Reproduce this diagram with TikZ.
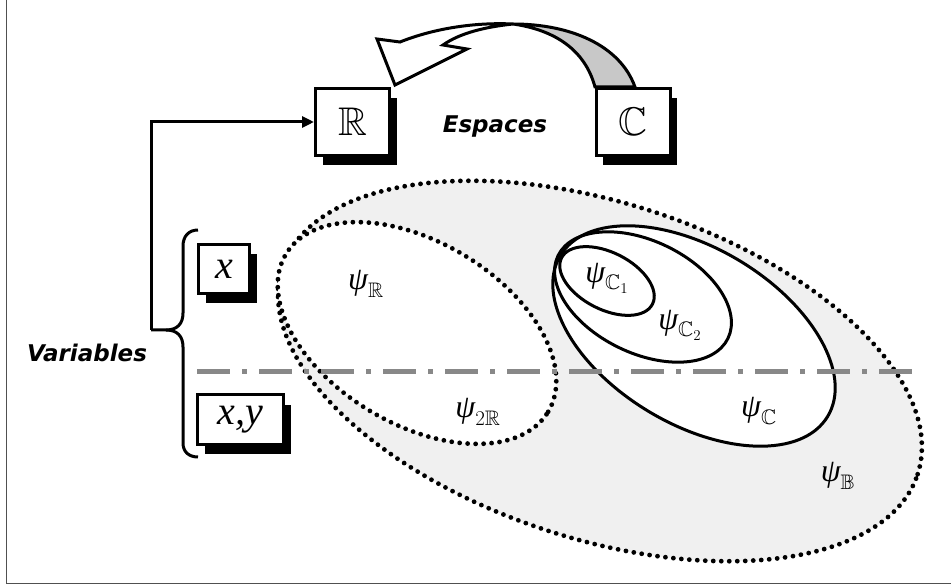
\RequirePackage{fix-cm}
\documentclass[tikz,border=0pt]{standalone}
\usepackage{amssymb}
\usepackage{fontspec}
\usetikzlibrary{arrows.meta,shadows}
\newfontfamily\verdfont{DejaVu Sans}
\newfontfamily\timesfont{Liberation Serif}
\newcommand\psig{\mbox{\fontsize{32}{36}\timesfont\itshape ψ}}
\definecolor{fondgris}{RGB}{240,240,240}
\definecolor{flechegris}{RGB}{200,200,200}
\definecolor{traitgris}{RGB}{136,136,136}
\definecolor{cadregris}{RGB}{80,80,80}
\tikzset{
  ombre/.style={drop shadow={shadow xshift=7pt,shadow yshift=-10pt,fill=black,opacity=1}},
  espace/.style={draw,line width=3pt,fill=white,minimum width=74pt,minimum height=67pt,inner sep=0pt,font=\fontsize{40}{44}\selectfont,ombre},
  varbox/.style={draw,line width=3pt,fill=white,minimum height=49pt,inner sep=0pt,font=\fontsize{40}{44}\timesfont\itshape,ombre},
  etiquette/.style={font=\fontsize{23}{27}\verdfont\bfseries\itshape,inner sep=0pt},
  psi/.style={font=\fontsize{30}{34}\selectfont,inner sep=0pt},
  pointille/.style={line width=4.8pt,line cap=round,dash pattern=on 0pt off 8pt},
  contour/.style={line width=3pt},
  axe/.style={line width=5pt,traitgris,dash pattern=on 33pt off 12pt on 5pt off 12pt},
  fleche/.style={line width=3pt,line join=miter},
  accolade/.style={line width=3pt},
  lien/.style={line width=3pt,-{Triangle[length=12pt,width=11pt]}},
  cadre/.style={line width=1.5pt,cadregris}
}
\begin{document}
\begin{tikzpicture}[x=1pt,y=-1pt]
\useasboundingbox (0,0) rectangle (951,585);
\draw[cadre] (6.5,0) -- (6.5,583.5) -- (951,583.5);
\draw[pointille,fill=fondgris,rotate around={-18:(600,371)}] (600,371) ellipse [x radius=334pt,y radius=168pt];
\draw[pointille,fill=white,rotate around={-31:(417,333)}] (417,333) ellipse [x radius=153pt,y radius=91pt];
\draw[contour,fill=white,rotate around={-31:(694,336)}] (694,336) ellipse [x radius=156pt,y radius=88pt];
\draw[contour,rotate around={-26:(643,297)}] (643,297) ellipse [x radius=94.5pt,y radius=56pt];
\draw[contour,rotate around={-27:(607,281)}] (607,281) ellipse [x radius=51pt,y radius=28.5pt];
\coordinate (axeg) at (197,372);
\coordinate (axed) at (916,372);
\draw[axe] (axeg) -- (axed);
\node[psi] (psiR) at (366,284) {$\psig_{\mathbb{R}}$};
\node[psi] (psiRR) at (478,412) {$\psig_{2\mathbb{R}}$};
\node[psi] (psiCa) at (607,278) {$\psig_{\mathbb{C}_1}$};
\node[psi] (psiCb) at (680,325) {$\psig_{\mathbb{C}_2}$};
\node[psi] (psiC) at (759,411) {$\psig_{\mathbb{C}}$};
\node[psi] (psiB) at (838,476) {$\psig_{\mathbb{B}}$};
\filldraw[fleche,fill=flechegris] (595,87) .. controls (585,50) and (555,30) .. (513,24) .. controls (570,24) and (620,45) .. (635,87) -- cycle;
\filldraw[fleche,fill=white] (513,24) .. controls (470,22) and (430,30) .. (400,42) -- (377,39) -- (395,85) -- (467,49) -- (443,45) .. controls (460,33) and (485,27) .. (513,24) -- cycle;
\node[espace] (R) at (352.5,122) {$\mathbb{R}$};
\node[espace] (C) at (633,122) {$\mathbb{C}$};
\node[etiquette] (esp) at (495,127) {Espaces};
\node[varbox,minimum width=51pt] (x) at (224,269) {x};
\node[varbox,minimum width=86pt] (xy) at (240.5,419.5) {x,y};
\node[etiquette] (var) at (87,353) {Variables};
\coordinate (pointe) at (151,330);
\draw[accolade] (198,230) .. controls (189,230) and (183,236) .. (183,246) -- (183,313) .. controls (183,324) and (177,330) .. (166,330) -- (pointe);
\draw[accolade] (166,330) .. controls (177,330) and (183,336) .. (183,347) -- (183,443) .. controls (183,452) and (189,457) .. (198,457);
\draw[lien] (pointe) |- (R.west);
\end{tikzpicture}
\end{document}
